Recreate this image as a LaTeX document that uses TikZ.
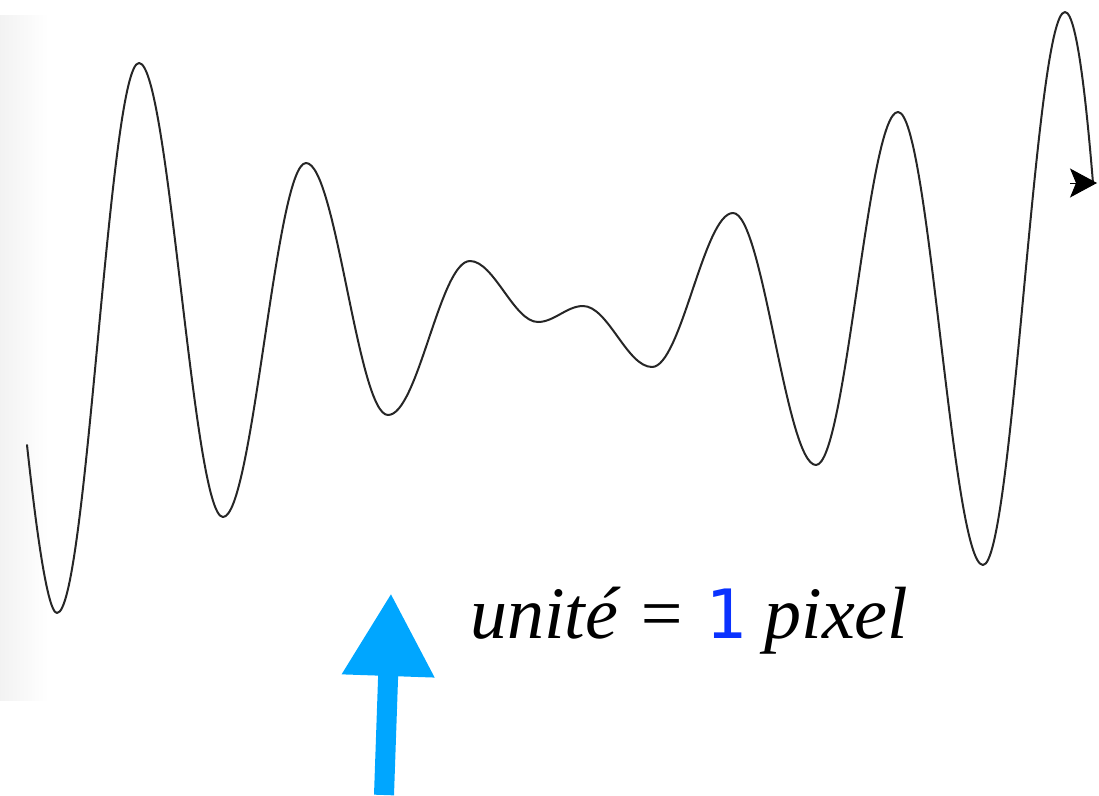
\documentclass[tikz,border=0pt]{standalone}
\usepackage{fontspec}
\setmainfont{Liberation Serif}
\newfontfamily\digitfont{DejaVu Sans Mono}
\usetikzlibrary{arrows.meta}

\definecolor{digitblue}{RGB}{10,50,255}
\definecolor{arrowblue}{RGB}{0,166,255}

\tikzset{
  wave/.style={line width=2pt, black!85, line join=round, line cap=round},
  pointer/.style={arrowblue, line width=20pt, -{Triangle[length=83pt, width=87pt]}},
  unitlabel/.style={inner sep=0pt, anchor=base west, font=\fontsize{74}{80}\selectfont}
}

\begin{document}
\begin{tikzpicture}[x=1pt, y=-1pt]

    % page frame
    \useasboundingbox (0,0) rectangle (1099,795);

    % faint shadow along the left edge
    \shade[left color=black!5, right color=white] (0,15) rectangle (48,700);

    % ==========================================
    % THE WAVE
    % ==========================================
    \draw[wave] (27,445)
        .. controls +(6,55) and +(-11,0) .. (57,613)
        .. controls +(30,0) and +(-30,0) .. (139,63)
        .. controls +(30,0) and +(-30,0) .. (223,517)
        .. controls +(30,0) and +(-30,0) .. (306,163)
        .. controls +(30,0) and +(-30,0) .. (388,415)
        .. controls +(30,0) and +(-30,0) .. (470,261)
        .. controls +(24,0) and +(-24,0) .. (538,322)
        .. controls +(16,0) and +(-16,0) .. (583,306)
        .. controls +(25,0) and +(-25,0) .. (652,367)
        .. controls +(29,0) and +(-29,0) .. (733,213)
        .. controls +(30,0) and +(-30,0) .. (816,465)
        .. controls +(30,0) and +(-30,0) .. (898,112)
        .. controls +(31,0) and +(-31,0) .. (983,565)
        .. controls +(30,0) and +(-30,0) .. (1065,12)
        .. controls +(13,0) and +(-5,-60) .. (1093,183);

    % arrow head at the end of the wave
    \coordinate (headback) at (1070,183);
    \coordinate (headtip) at (1097,183);
    \draw[black, line width=1pt, -{Stealth[length=27pt, width=29pt, inset=6pt]}] (headback) -- (headtip);

    % ==========================================
    % LABEL AND BLUE POINTER
    % ==========================================
    \node[unitlabel] (unit) at (470,638)
        {\itshape unité = {\upshape\digitfont\fontsize{68}{80}\selectfont\color{digitblue}1} pixel};

    \coordinate (pointerfoot) at (384,795);
    \coordinate (pointertip) at (391,593);
    \draw[pointer] (pointerfoot) -- (pointertip);

\end{tikzpicture}
\end{document}
